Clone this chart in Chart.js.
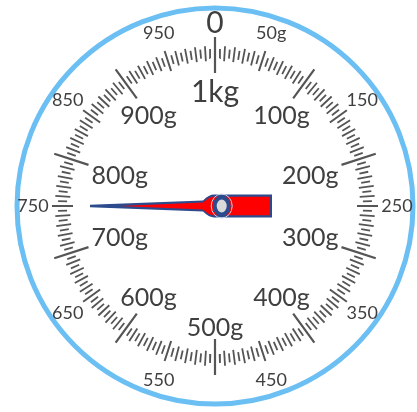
<!DOCTYPE html>
<html>
<head>
<meta charset="utf-8">
<script src="https://cdn.jsdelivr.net/npm/chart.js@4/dist/chart.umd.min.js"></script>
<style>
  html, body { margin: 0; padding: 0; background: #fff; }
  #dial { display: block; }
</style>
</head>
<body>
<canvas id="dial" width="417" height="412"></canvas>
<script>
// scale values (grams)
const majorTicks = [0, 100, 200, 300, 400, 500, 600, 700, 800, 900]
const mediumTicks = [50, 150, 250, 350, 450, 550, 650, 750, 850, 950]
const minorStep = 5
const fullScale = 1000

const outerValues = [0, 50, 150, 250, 350, 450, 550, 650, 750, 850, 950]
const outerLabels = ['0', '50g', '150', '250', '350', '450', '550', '650', '750', '850', '950']

const innerValues = [0, 100, 200, 300, 400, 500, 600, 700, 800, 900]
const innerLabels = ['1kg', '100g', '200g', '300g', '400g', '500g', '600g', '700g', '800g', '900g']

const needleValue = [750]

const tickColor = '#555'
const textColor = '#3f3f3f'
const ringColor = '#6cbff3'
const FONT = 'Lato, "Noto Sans", sans-serif'

// angle of a value, clockwise from the top
const ang = v => v / fullScale * Math.PI * 2

// one tick = two points + a gap
const segs = (values, r1, r2) => {
    let out = []
    values.forEach(v => {
        let a = ang(v)
        out.push({ x: r1 * Math.sin(a), y: r1 * Math.cos(a) })
        out.push({ x: r2 * Math.sin(a), y: r2 * Math.cos(a) })
        out.push({ x: null, y: null })
    })
    return out
}

let tens = [], fives = []
for (let v = 0; v < fullScale; v += minorStep) {
    if (v % 50 == 0) continue
    if (v % 10 == 0) tens.push(v)
    else fives.push(v)
}

const lineSet = (data, width) => ({
    data: data,
    showLine: true,
    spanGaps: false,
    borderColor: tickColor,
    borderWidth: width,
    pointRadius: 0,
    clip: false
})

const dialPlugin = {
    id: 'dial',
    beforeDatasetsDraw(chart) {
        const { ctx, scales } = chart
        const cx = scales.x.getPixelForValue(0)
        const cy = scales.y.getPixelForValue(0)
        const k = scales.x.getPixelForValue(1) - cx
        ctx.save()
        ctx.beginPath()
        ctx.arc(cx, cy, 198 * k, 0, Math.PI * 2)
        ctx.fillStyle = '#fff'
        ctx.fill()
        ctx.lineWidth = 5
        ctx.strokeStyle = ringColor
        ctx.stroke()
        ctx.restore()
    },
    afterDatasetsDraw(chart) {
        const { ctx, scales } = chart
        const cx = scales.x.getPixelForValue(0)
        const cy = scales.y.getPixelForValue(0)
        const k = scales.x.getPixelForValue(1) - cx

        ctx.save()
        ctx.fillStyle = textColor
        ctx.textAlign = 'center'
        ctx.textBaseline = 'alphabetic'

        // outer labels
        outerValues.forEach((v, i) => {
            let size = outerLabels[i] == '0' ? 30 : 18
            let r = (outerLabels[i] == '0' ? 184 : 182) * k
            let a = ang(v)
            ctx.font = `${size}px ${FONT}`
            ctx.fillText(outerLabels[i], cx + r * Math.sin(a), cy - r * Math.cos(a) + size * 0.36)
        })

        // inner labels
        innerValues.forEach((v, i) => {
            let size = i == 0 ? 30 : 25
            let a = ang(v)
            let s = Math.sin(a)
            let r = (121 - 23 * s * s - 1.3 * (size - 25)) * k
            ctx.font = `${size}px ${FONT}`
            ctx.fillText(innerLabels[i], cx + r * s, cy - r * Math.cos(a) + size * 0.36)
        })
        ctx.restore()

        // needle
        ctx.save()
        ctx.translate(cx, cy)
        ctx.rotate(ang(needleValue[0]) - Math.PI / 2)
        ctx.scale(k, k)

        ctx.beginPath()
        ctx.moveTo(125, -1.3)
        ctx.lineTo(12, -5.6)
        ctx.quadraticCurveTo(6, -11.5, 1, -11.5)
        ctx.lineTo(-57, -11.5)
        ctx.lineTo(-57, 11.5)
        ctx.lineTo(1, 11.5)
        ctx.quadraticCurveTo(6, 11.5, 12, 5.6)
        ctx.lineTo(125, 1.3)
        ctx.closePath()
        ctx.fillStyle = '#2c4b8d'
        ctx.fill()

        ctx.beginPath()
        ctx.moveTo(95, 0)
        ctx.lineTo(12, -3.4)
        ctx.quadraticCurveTo(6, -9.3, 1, -9.3)
        ctx.lineTo(-55, -9.3)
        ctx.lineTo(-55, 9.3)
        ctx.lineTo(1, 9.3)
        ctx.quadraticCurveTo(6, 9.3, 12, 3.4)
        ctx.closePath()
        ctx.fillStyle = '#ff0000'
        ctx.fill()

        // hub
        ctx.beginPath()
        ctx.ellipse(-6.7, 0, 10.5, 12, 0, 0, Math.PI * 2)
        ctx.strokeStyle = '#c9d3e8'
        ctx.lineWidth = 1
        ctx.stroke()
        ctx.beginPath()
        ctx.ellipse(-6.7, 0, 9, 10.5, 0, 0, Math.PI * 2)
        ctx.fillStyle = '#2c4b8d'
        ctx.fill()
        ctx.beginPath()
        ctx.ellipse(-6.7, 0, 5, 6.5, 0, 0, Math.PI * 2)
        ctx.fillStyle = '#d9d9d9'
        ctx.fill()
        ctx.restore()
    }
}

new Chart(document.getElementById('dial'), {
    type: 'scatter',
    data: {
        datasets: [
            lineSet(segs(majorTicks, 133, 169), 2.2),
            lineSet(segs(mediumTicks, 142, 163), 2),
            lineSet(segs(tens, 145, 160), 1.8),
            lineSet(segs(fives, 148, 157), 1.8)
        ]
    },
    options: {
        responsive: false,
        animation: false,
        events: [],
        layout: { padding: 0 },
        plugins: {
            legend: { display: false },
            tooltip: { enabled: false }
        },
        scales: {
            x: { type: 'linear', display: false, min: -215, max: 202 },
            y: { type: 'linear', display: false, min: -206, max: 206 }
        }
    },
    plugins: [dialPlugin]
})
</script>
</body>
</html>
